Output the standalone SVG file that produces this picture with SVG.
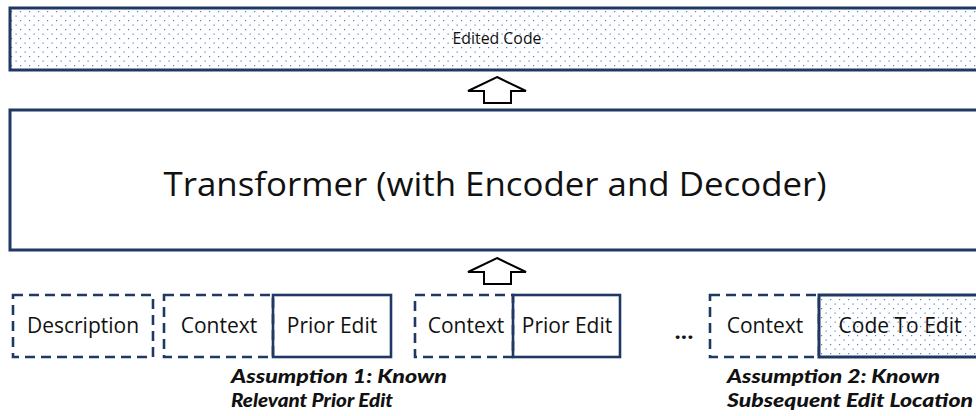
<svg xmlns="http://www.w3.org/2000/svg" width="976" height="416" viewBox="0 0 976 416">
  <style>
    .frame { fill: #ffffff; stroke: #1f3864; stroke-width: 3; }
    .dotted { fill: url(#dots); stroke: #1f3864; stroke-width: 3; }
    .solid { fill: none; stroke: #1f3864; stroke-width: 2.6; }
    .dashed { fill: none; stroke: #1f3864; stroke-width: 2.6; stroke-dasharray: 10 6; }
    .blockarrow { fill: #ffffff; stroke: #000000; stroke-width: 2; stroke-linejoin: miter; }
    .lbl { font-family: "Open Sans", "Liberation Sans", sans-serif; fill: #111111; text-anchor: middle; }
    .seg { font-size: 21px; }
    .note { font-family: Lato, "Open Sans", sans-serif; font-weight: 900; font-style: italic; fill: #111111; font-size: 19.8px; }
  </style>
  <defs>
    <pattern id="dots" width="9" height="9" patternUnits="userSpaceOnUse">
      <rect width="9" height="9" fill="#ffffff"/>
      <rect x="2" y="2" width="1.2" height="1.2" fill="#4f7fd0"/>
      <rect x="6.5" y="6.5" width="1.2" height="1.2" fill="#4f7fd0"/>
    </pattern>
    <path id="up" d="M0,0 L29,14 L14,14 L14,26 L-13,26 L-13,14 L-29,14 Z"/>
  </defs>

  <!-- output sequence -->
  <g id="edited-code">
    <rect class="dotted" x="10" y="8" width="980" height="62"/>
    <text class="lbl" x="497" y="44" font-size="17" textLength="89" lengthAdjust="spacingAndGlyphs">Edited Code</text>
  </g>

  <!-- model -->
  <g id="transformer">
    <rect class="frame" x="10" y="110" width="980" height="140"/>
    <text class="lbl" x="495" y="196" font-size="32" textLength="663" lengthAdjust="spacingAndGlyphs">Transformer (with Encoder and Decoder)</text>
  </g>

  <!-- input segments -->
  <g id="description">
    <rect class="dashed" x="13" y="295" width="140" height="62"/>
    <text class="lbl seg" x="83" y="333">Description</text>
  </g>
  <g id="context-1">
    <rect class="dashed" x="164" y="295" width="109" height="62"/>
    <text class="lbl seg" x="219" y="333">Context</text>
  </g>
  <g id="prior-edit-1">
    <rect class="solid" x="273" y="295" width="118" height="62"/>
    <text class="lbl seg" x="332" y="333">Prior Edit</text>
  </g>
  <g id="context-2">
    <rect class="dashed" x="415" y="295" width="98" height="62"/>
    <text class="lbl seg" x="466" y="333">Context</text>
  </g>
  <g id="prior-edit-2">
    <rect class="solid" x="513" y="295" width="107" height="62"/>
    <text class="lbl seg" x="567" y="333" font-size="20">Prior Edit</text>
  </g>
  <g id="ellipsis">
    <text class="lbl" x="684" y="339" font-size="22" font-weight="bold">...</text>
  </g>
  <g id="context-3">
    <rect class="dashed" x="710" y="295" width="109" height="62"/>
    <text class="lbl seg" x="765" y="333">Context</text>
  </g>
  <g id="code-to-edit">
    <rect class="dotted" x="819" y="295" width="180" height="62" stroke-width="2.6"/>
    <text class="lbl seg" x="900" y="333">Code To Edit</text>
  </g>

  <!-- assumptions -->
  <g id="assumption-1">
    <text class="note" x="231" y="383" textLength="216" lengthAdjust="spacingAndGlyphs">Assumption 1: Known</text>
    <text class="note" x="231" y="407" textLength="162" lengthAdjust="spacingAndGlyphs">Relevant Prior Edit</text>
  </g>
  <g id="assumption-2">
    <text class="note" x="727" y="383" textLength="213" lengthAdjust="spacingAndGlyphs">Assumption 2: Known</text>
    <text class="note" x="727" y="407" textLength="246" lengthAdjust="spacingAndGlyphs">Subsequent Edit Location</text>
  </g>

  <!-- connectors: block arrows -->
  <g id="connectors">
    <use href="#up" class="blockarrow" x="497" y="77"/>
    <use href="#up" class="blockarrow" x="497" y="258"/>
  </g>
</svg>
